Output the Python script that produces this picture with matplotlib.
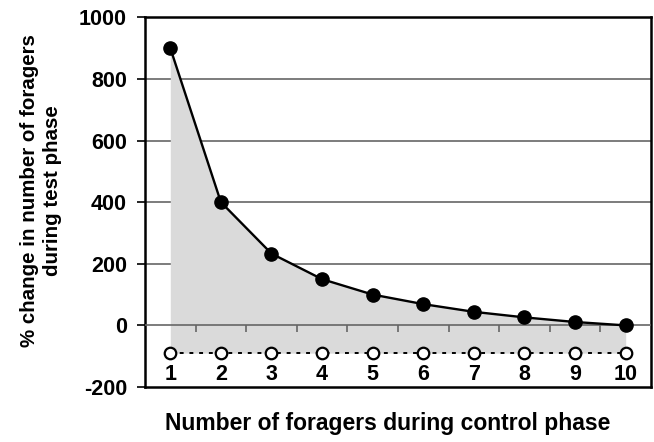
import matplotlib
matplotlib.use("Agg")
import matplotlib.pyplot as plt
import numpy as np

plt.rcParams['font.family'] = ['Liberation Sans', 'DejaVu Sans']
plt.rcParams['font.weight'] = 'bold'

# Data
categories = [1, 2, 3, 4, 5, 6, 7, 8, 9, 10]
pct_change = [900, 400, 233, 150, 100, 69, 44, 26, 11, 0]
baseline = [-90] * 10
tick_labels = ['1', '2', '3', '4', '5', '6', '7', '8', '9', '10']
yticks = [-200, 0, 200, 400, 600, 800, 1000]

fig = plt.figure(figsize=(6.54, 4.42), dpi=100)
ax = fig.add_axes([0.2217, 0.1244, 0.9954 - 0.2217, 0.9609 - 0.1244])

x = np.array(categories, dtype=float)
y = np.array(pct_change, dtype=float)
b = np.array(baseline, dtype=float)

# gridlines
for yt in yticks[2:-1]:
    ax.axhline(yt, color='#666666', lw=1.2, zorder=1)

ax.fill_between(x, y, b, color='#dadada', lw=0, zorder=2)

# zero axis line with ticks between categories
ax.axhline(0, color='#666666', lw=1.2, zorder=3)
bounds = x[:-1] + 0.5
ax.vlines(bounds, -20, 0, color='#666666', lw=1.2, zorder=3)

# dotted baseline with open circles
ax.plot(x, b, linestyle=(0, (2, 3)), color='black', lw=1.4, zorder=4)
ax.plot(x, b, 'o', ms=8.3, mfc='white', mec='black', mew=1.6, zorder=5)

# main curve
ax.plot(x, y, '-', color='black', lw=1.7, zorder=6)
ax.plot(x, y, 'o', ms=9.5, color='black', zorder=7)

# category labels inside axes
for xi, lab in zip(x, tick_labels):
    ax.text(xi, -158, lab, ha='center', va='center', fontsize=15.5,
            fontweight='bold', zorder=8)

ax.set_xlim(0.5, 10.5)
ax.set_ylim(-200, 1000)
ax.set_yticks(yticks)
ax.set_yticklabels([str(v) for v in yticks], fontsize=15.5, fontweight='bold')
ax.set_xticks([])
ax.tick_params(axis='y', length=6, width=1.2, pad=7)

for s in ax.spines.values():
    s.set_linewidth(1.8)
    s.set_color('black')

ax.set_ylabel('% change in number of foragers\nduring test phase',
              fontsize=14.8, fontweight='bold', linespacing=1.3)
ax.yaxis.set_label_coords(-0.164, 0.532)
ax.set_xlabel('Number of foragers during control phase',
              fontsize=16.5, fontweight='bold')
ax.xaxis.set_label_coords(0.48, -0.0676)

fig.savefig('out.png', dpi=100)
